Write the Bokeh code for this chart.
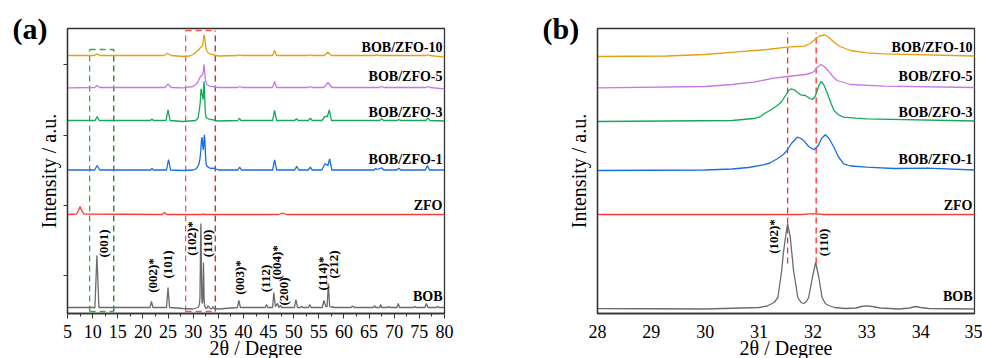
from bokeh.plotting import figure
from bokeh.layouts import row
from bokeh.models import ColumnDataSource, FixedTicker, Range1d, Title
from bokeh.core.properties import value
from bokeh.embed import file_html
from bokeh.resources import INLINE

FONT = "Liberation Serif"

# ---------------- data (2theta in degree, stacked intensity in a.u.) ----------------
bob_tt = [5.0, 10.45, 10.85, 11.25, 21.4, 21.7, 22.0, 24.7, 25.0, 25.3, 28.0, 30.0, 31.0,
          31.15, 31.28, 31.35, 31.42, 31.45, 31.49, 31.53, 31.58, 31.64, 31.72, 31.78, 31.83,
          31.88, 31.92, 31.99, 32.05, 32.11, 32.17, 32.23, 32.29, 32.4, 32.6, 32.8, 32.9,
          33.0, 33.1, 33.25, 33.6, 33.8, 33.9, 34.0, 34.15, 35.0,
          38.8, 39.1, 39.4, 44.35, 44.6, 44.85,
          45.8, 46.05, 46.35, 46.8, 47.05, 47.4, 47.6, 50.15, 50.45, 50.75, 51.4, 51.6, 51.8,
          52.95, 53.2, 53.45, 55.7, 56.0, 56.4, 56.65, 56.9, 57.15, 57.6, 57.8, 58.0, 61.4,
          61.7, 62.0, 65.9, 66.1, 66.3, 67.1, 67.3, 67.5, 68.7, 68.9, 69.1, 70.55, 70.8, 71.05,
          73.9, 74.1, 74.3, 76.1, 76.4, 76.7, 78.4, 78.6, 78.8, 80.0]
bob_int = [6, 6, 58, 6, 6, 12, 6, 6, 26, 6, 5, 4.5, 6,
           7.5, 11, 16, 43, 60, 76, 90, 76, 43, 16, 11, 10,
           12, 16, 36, 51, 36, 16, 10, 8, 6, 5, 5.5, 7,
           7.7, 7, 5.5, 4.5, 5.5, 7, 6, 5, 4.5,
           6, 13, 6, 6, 9, 6,
           6, 21, 7, 10, 6, 8, 6, 6, 14, 6, 6, 7.5, 6,
           6, 9, 6, 6, 13, 7, 7, 30, 7, 6, 7, 6, 6,
           7.5, 6, 6, 8, 6, 6, 9, 6, 6, 7, 6, 6, 10, 6,
           6, 7, 6, 6, 10, 6, 6, 7.5, 6, 6]

zfo_tt = [5.0, 6.8, 7.2, 7.5, 7.8, 8.3, 23.8, 24.3, 24.8, 28.0, 31.8, 32.0, 32.2, 35.0,
          47.0, 47.8, 48.6, 80.0]
zfo_int = [99, 99.5, 103, 107, 103, 99.5, 99, 101, 99, 99, 99, 99.8, 99, 99,
           99, 100.5, 99, 99]

z1_tt = [5.0, 10.4, 10.9, 11.4, 21.5, 21.8, 22.1, 24.7, 25.1, 25.5, 28.0, 30.0, 30.5,
         30.8, 31.08, 31.2, 31.34, 31.45, 31.52, 31.6, 31.71, 31.78, 31.84, 31.92, 32.02,
         32.1, 32.16, 32.23, 32.3, 32.39, 32.47, 32.57, 32.7, 33.0, 33.5, 34.12,
         35.0, 38.9, 39.25, 39.6, 45.8, 46.2, 46.6, 50.2, 50.6, 51.0, 52.9, 53.3, 53.7,
         55.6, 56.2, 56.8, 57.15, 57.6, 66.0, 66.3, 66.6, 67.5, 67.9, 70.5, 70.9, 71.3,
         76.2, 76.6, 77.0, 80.0]
z1_int = [143.5, 143.5, 148, 143.5, 143.5, 145, 143.5, 143.5, 154, 143.5, 143, 143.5, 144.5,
          146, 148.7, 150.5, 154.7, 159, 163, 170, 176.3, 175, 172.3, 167, 163.7,
          168, 175, 178.7, 175, 166.3, 157, 149.7, 147.5, 146.3, 145, 145.3,
          143.5, 143.5, 146.3, 143.5, 143.5, 153.7, 143.5, 143.5, 147.3, 143.5, 143.5, 146.3, 143.5,
          143.5, 149.7, 148, 154.7, 143.5, 143.5, 145, 144, 145.7, 143.5, 143.5, 145.3, 143.5,
          143.5, 148, 143.5, 143.5]

z3_tt = [5.0, 10.5, 10.9, 11.3, 21.5, 21.8, 22.1, 24.6, 25.0, 25.4, 28.0, 30.5, 30.9,
         31.03, 31.09, 31.2, 31.34, 31.42, 31.49, 31.55, 31.6, 31.66, 31.77, 31.86, 31.94,
         31.99, 32.04, 32.07, 32.11, 32.15, 32.2, 32.26, 32.33, 32.39, 32.48, 32.57, 32.8,
         33.0, 35.0, 38.9, 39.2, 39.5, 45.8, 46.2, 46.6, 50.2, 50.55, 50.9, 52.9, 53.3, 53.7,
         55.6, 56.2, 56.7, 57.1, 57.5, 67.1, 67.5, 67.9, 70.6, 70.9, 71.2, 76.3, 76.7, 77.1, 80.0]
z3_int = [193, 193, 197, 193, 193, 194.5, 193, 193, 203.7, 193, 192, 193, 195,
          197, 199.7, 203, 208, 212, 218, 223, 224.7, 223.5, 218.7, 218, 215,
          214, 217, 221.3, 228, 232, 229, 221.3, 211, 203, 198.5, 196.3, 195.3,
          194.7, 192.5, 193, 195.3, 193, 193, 203, 193, 193, 194.7, 193, 193, 195.3, 193,
          193, 197, 197, 203.7, 193, 193, 194.7, 193, 193, 194, 193, 193, 195.7, 193, 192.5]

z5_tt = [5.0, 10.4, 10.9, 11.4, 24.4, 25.0, 25.6, 28.0, 30.0, 30.5, 30.9, 31.27, 31.52,
         31.86, 31.97, 32.02, 32.08, 32.15, 32.22, 32.29, 32.37, 32.45, 32.7, 33.32, 35.0,
         38.9, 39.3, 39.7, 45.8, 46.2, 46.6,
         52.9, 53.3, 53.7, 56.0, 56.8, 57.6, 67.1, 67.5, 67.9, 76.3, 76.7, 77.1, 80.0]
z5_int = [225.7, 226, 228, 226, 226, 229.7, 226, 225.7, 227, 229, 231.3, 235.3, 237,
          239, 240.5, 242, 246, 249, 246.5, 242.3, 237, 233, 229, 227.3, 226,
          226, 227, 226, 226, 232, 226,
          226, 227, 226, 226, 231, 226, 226, 227, 226, 226, 227, 226, 224.7]

z10_tt = [5.0, 10.4, 10.9, 11.4, 24.2, 24.9, 25.6, 28.0, 29.29, 30.0, 30.53, 31.15, 31.52,
          31.84, 31.95, 32.05, 32.13, 32.21, 32.3, 32.39, 32.5, 32.7, 33.0, 33.32, 35.0,
          38.9, 39.3, 39.7, 45.8, 46.2, 46.6,
          52.9, 53.3, 53.7, 56.1, 56.8, 57.5, 66.0, 66.5, 67.0, 76.3, 76.7, 77.1, 80.0]
z10_int = [258, 258, 259.7, 258, 258, 260.3, 258, 257, 257.5, 259, 261.3, 264, 266.3,
           267.3, 270, 274.7, 277.5, 278.7, 276, 271.3, 267, 263, 260.7, 259.7, 257.5,
           258, 258.7, 258, 258, 263, 258,
           258, 258.7, 258, 258, 261.3, 258, 258, 258.7, 258, 258, 258.7, 258, 256.3]

series_names = ["BOB", "ZFO", "BOB/ZFO-1", "BOB/ZFO-3", "BOB/ZFO-5", "BOB/ZFO-10"]
series_tt = [bob_tt, zfo_tt, z1_tt, z3_tt, z5_tt, z10_tt]
series_int = [bob_int, zfo_int, z1_int, z3_int, z5_int, z10_int]
series_colors = ["#6b6b6b", "#ff3c3c", "#1a6ee0", "#15a85a", "#c878e6", "#e5a010"]
name_y = [17, 108, 154, 201, 237, 266]

hkl_a = ["(001)", "(002)*", "(101)", "(102)*", "(110)", "(003)*", "(112)", "(004)*",
         "(200)", "(114)*", "(212)"]
hkl_a_tt = [12.16, 21.9, 24.9, 29.67, 32.85, 39.2, 44.4, 46.6, 47.97, 55.7, 57.9]
hkl_a_y = [70, 38, 49, 75, 70, 36, 35, 51, 22, 40, 49]

hkl_b = ["(102)*", "(110)"]
hkl_b_tt = [31.27, 32.2]
hkl_b_y = [77, 71]

green_box = [9.4, 14.2, 2, 264]
red_box = [28.5, 34.4, 2, 283]
b_ref_tt = [31.53, 32.06]
b_ref_y = [50, 281]

x_ticks_a = list(range(5, 81, 5))
x_ticks_b = list(range(28, 36))
y_ticks = [38, 108, 178, 249]


def base_fig(xr, left, right, tag):
    p = figure(width=491, height=358, x_range=Range1d(*xr), y_range=Range1d(0, 285),
               output_backend="svg", toolbar_location=None,
               min_border_left=left, min_border_right=right,
               min_border_top=28, min_border_bottom=45)
    p.grid.visible = False
    p.outline_line_color = "#333333"
    p.outline_line_width = 1.3
    for ax in (p.xaxis[0], p.yaxis[0]):
        ax.axis_line_color = "#333333"
        ax.axis_line_width = 1.3
        ax.major_tick_line_color = "#333333"
        ax.minor_tick_line_color = "#333333"
        ax.major_label_text_font = FONT
        ax.major_label_text_font_size = "18px"
        ax.major_label_text_color = "black"
        ax.axis_label_text_font = FONT
        ax.axis_label_text_font_size = "20px"
        ax.axis_label_text_font_style = "normal"
        ax.axis_label_text_color = "black"
        ax.major_tick_in = 0
        ax.minor_tick_in = 0
    p.yaxis.axis_label = "Intensity / a.u."
    p.xaxis.major_label_standoff = 6
    # panel tag "(a)"/"(b)" as the plot title, pulled left and down onto the frame edge
    p.title = Title(text=tag, align="left", vertical_align="middle", offset=-55,
                    standoff=-35, text_font=FONT, text_font_style="bold",
                    text_font_size="30px", text_color="black")
    # x-axis title below the tick labels
    p.add_layout(Title(text="2θ / Degree", align="center", vertical_align="middle",
                       standoff=-10, text_font=FONT, text_font_style="normal",
                       text_font_size="20px", text_color="black"), "below")
    return p


def draw_series(p, xr):
    for tt, it, col in zip(series_tt, series_int, series_colors):
        p.line(tt, it, line_color=col, line_width=1.3)
    src = ColumnDataSource(dict(x=[xr[1]] * len(series_names), y=name_y, t=series_names))
    p.text(x="x", y="y", text="t", source=src, x_offset=-2, text_align="right",
           text_baseline="middle", text_font=value(FONT), text_font_style="bold",
           text_font_size="14px", text_color="black")


# ---------------- panel (a) ----------------
pa = base_fig((5, 80), 67, 47, "(a)")
pa.xaxis.ticker = FixedTicker(ticks=x_ticks_a,
                              minor_ticks=[t + 2.5 for t in x_ticks_a[:-1]])
pa.xaxis.major_tick_out = 5
pa.xaxis.minor_tick_out = 3
pa.yaxis.ticker = FixedTicker(ticks=y_ticks)
pa.yaxis.major_tick_out = 4
pa.yaxis.minor_tick_line_color = None
pa.yaxis.major_label_text_font_size = "1px"
pa.yaxis.major_label_text_color = None
pa.yaxis.major_label_standoff = 0
pa.yaxis.axis_label_standoff = 4

x0, x1, y0, y1 = green_box
pa.segment([x0, x0, x0], [y0, y1, y0], [x0, x1, x1], [y1, y1, y0],
           line_color="#3caa3c", line_width=1.3, line_dash="6 4")
pa.segment([x1], [y0], [x1], [y1], line_color="#1f7a1f", line_width=1.3, line_dash="6 4")
x0, x1, y0, y1 = red_box
pa.segment([x0, x0, x0], [y0, y1, y0], [x0, x1, x1], [y1, y1, y0],
           line_color="#ff5050", line_width=1.3, line_dash="6 4")
pa.segment([x1], [y0], [x1], [y1], line_color="#e01515", line_width=1.3, line_dash="6 4")

draw_series(pa, (5, 80))
pa.text(x=hkl_a_tt, y=hkl_a_y, text=hkl_a, angle=1.5708, text_align="center",
        text_baseline="middle", text_font=value(FONT), text_font_style="bold",
        text_font_size="13px", text_color="black")

# ---------------- panel (b) ----------------
pb = base_fig((28, 35), 106, 8, "(b)")
pb.xaxis.ticker = FixedTicker(ticks=x_ticks_b, minor_ticks=[])
pb.xaxis.major_tick_line_color = None
pb.xaxis.major_tick_out = 5
pb.yaxis.ticker = FixedTicker(ticks=[], minor_ticks=[])
pb.yaxis.major_label_text_font_size = "1px"
pb.yaxis.major_label_standoff = 0
pb.yaxis.axis_label_standoff = 8

pb.segment(b_ref_tt, [b_ref_y[0]] * 2, b_ref_tt, [b_ref_y[1]] * 2,
           line_color="#ff2a2a", line_width=1.3, line_dash="6 4")
draw_series(pb, (28, 35))
pb.text(x=hkl_b_tt, y=hkl_b_y, text=hkl_b, angle=1.5708, text_align="center",
        text_baseline="middle", text_font=value(FONT), text_font_style="bold",
        text_font_size="13px", text_color="black")

layout = row(pa, pb)
open("out.html", "w").write(file_html(layout, INLINE))
